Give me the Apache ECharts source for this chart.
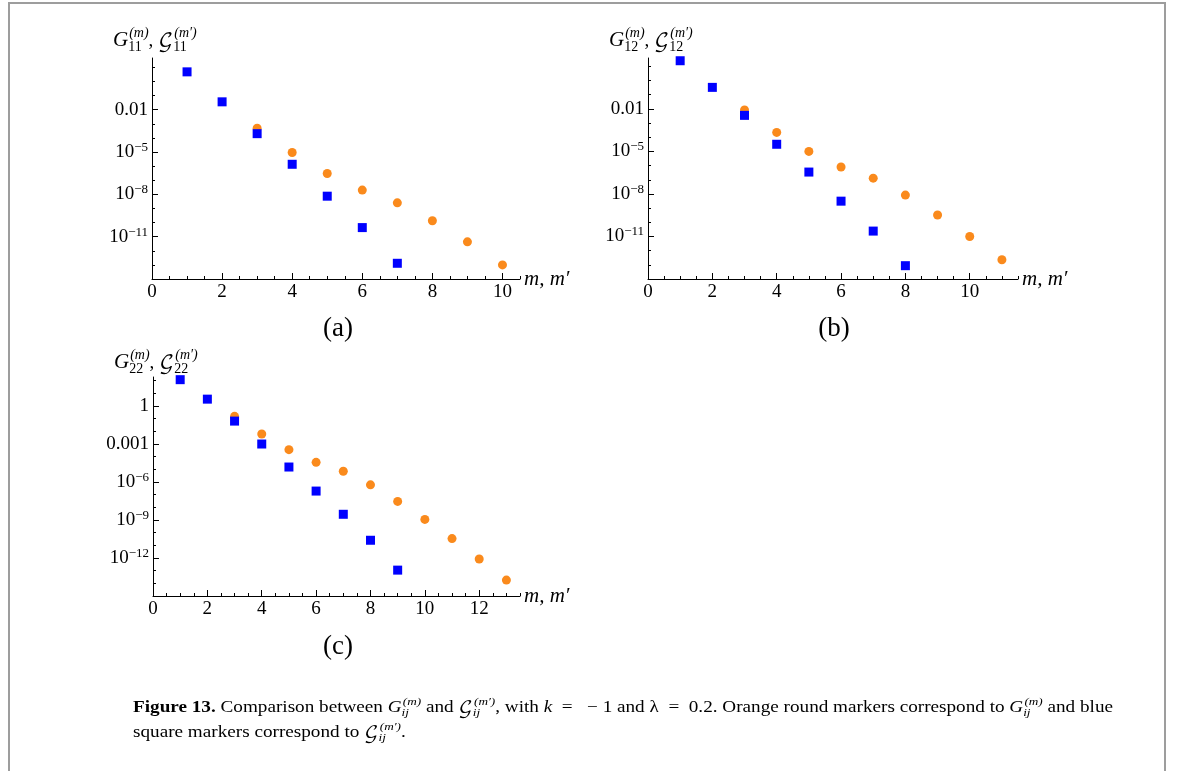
<!DOCTYPE html>
<html>
<head>
<meta charset="utf-8">
<script src="https://cdn.jsdelivr.net/npm/echarts@6/dist/echarts.min.js"></script>
<style>
html,body{margin:0;padding:0;background:#fff;}
#chart{width:1182px;height:771px;}
</style>
</head>
<body>
<div id="chart"></div>
<script>
// ---------------- data ----------------
// panel (a): G11
const mOrangeA = [3, 4, 5, 6, 7, 8, 9, 10];
const orangeA = [4.9e-4, 9.3e-6, 3.0e-7, 2.0e-8, 2.5e-9, 1.35e-10, 4.3e-12, 1.0e-13];
const mBlueA = [1, 2, 3, 4, 5, 6, 7];
const blueA = [4.8, 0.036, 2.0e-4, 1.35e-6, 7.4e-9, 4.4e-11, 1.3e-13];
// panel (b): G12
const mOrangeB = [3, 4, 5, 6, 7, 8, 9, 10, 11];
const orangeB = [8.5e-3, 2.2e-4, 1.0e-5, 7.9e-7, 1.3e-7, 8.3e-9, 3.3e-10, 1.0e-11, 2.3e-13];
const mBlueB = [1, 2, 3, 4, 5, 6, 7, 8];
const blueB = [25, 0.33, 3.5e-3, 3.2e-5, 3.5e-7, 3.1e-9, 2.4e-11, 8.7e-14];
// panel (c): G22
const mOrangeC = [3, 4, 5, 6, 7, 8, 9, 10, 11, 12, 13];
const orangeC = [0.15, 6.0e-3, 3.5e-4, 3.5e-5, 6.9e-6, 5.9e-7, 2.9e-8, 1.1e-9, 3.4e-11, 8.3e-13, 1.8e-14];
const mBlueC = [1, 2, 3, 4, 5, 6, 7, 8, 9];
const blueC = [117, 3.4, 0.063, 9.8e-4, 1.5e-5, 1.9e-7, 2.8e-9, 2.5e-11, 1.1e-13];

// axis ranges and tick labels
const xMaxA = 10.5, xMaxB = 11.5, xMaxC = 13.5;
const xTicksA = [0, 2, 4, 6, 8, 10];
const xTicksB = [0, 2, 4, 6, 8, 10];
const xTicksC = [0, 2, 4, 6, 8, 10, 12];
const yRangeA = [1e-14, 46];
const yRangeB = [1e-14, 39];
const yRangeC = [1e-15, 190];
const yLabelExpA = [-11, -8, -5, -2];
const yLabelExpB = [-11, -8, -5, -2];
const yLabelExpC = [-12, -9, -6, -3, 0];

// ---------------- styling ----------------
const SERIF = "'Liberation Serif', 'DejaVu Serif', serif";
const SCRIPT = "'DejaVu Math TeX Gyre', 'Noto Sans Math', 'DejaVu Serif', serif";
const ORANGE = '#FA8A1C';
const BLUE = '#0000FF';
const TICK_FS = 19;

const grids = [
  {left: 152, top: 58, width: 368, height: 221},
  {left: 648, top: 58, width: 370, height: 221},
  {left: 153, top: 377, width: 367, height: 219}
];

function yLabel(v) {
  const e = Math.round(v);
  if (e === 0) return '1';
  if (e >= -3) return (Math.pow(10, e)).toFixed(-e);
  return '10{sup|\u2212' + (-e) + '}';
}
function ints(lo, hi) {
  const r = [];
  for (let i = Math.ceil(lo); i <= Math.floor(hi); i++) r.push(i);
  return r;
}
function xMajor(g, max, ticks) {
  return {
    type: 'value', gridIndex: g, position: 'bottom', min: 0, max: max,
    name: 'm, m\u2032', nameLocation: 'end', nameGap: 4,
    nameTextStyle: {fontFamily: SERIF, fontStyle: 'italic', fontSize: 21, color: '#000', padding: [6, 0, 0, 0]},
    splitLine: {show: false},
    axisLine: {show: true, onZero: false, lineStyle: {color: '#000', width: 1}},
    axisTick: {show: true, inside: true, length: 6, customValues: ticks, lineStyle: {color: '#000'}},
    axisLabel: {customValues: ticks, margin: 4, fontFamily: SERIF, fontSize: TICK_FS, color: '#000'}
  };
}
function xMinor(g, max) {
  return {
    type: 'value', gridIndex: g, position: 'bottom', min: 0, max: max, interval: 0.5,
    splitLine: {show: false}, axisLine: {show: false, onZero: false},
    axisLabel: {show: false},
    axisTick: {show: true, inside: true, length: 3, lineStyle: {color: '#000'}}
  };
}
function yMajor(g, range, labels) {
  const lo = Math.log10(range[0]), hi = Math.log10(range[1]);
  return {
    type: 'value', gridIndex: g, position: 'left', min: lo, max: hi,
    splitLine: {show: false},
    axisLine: {show: true, onZero: false, lineStyle: {color: '#000', width: 1}},
    axisTick: {show: true, inside: true, length: 6, customValues: labels, lineStyle: {color: '#000'}},
    axisLabel: {
      customValues: labels, margin: 4, formatter: yLabel,
      fontFamily: SERIF, fontSize: TICK_FS, color: '#000', lineHeight: 22,
      rich: {sup: {fontFamily: SERIF, fontSize: 13, color: '#000', verticalAlign: 'top', lineHeight: 20}}
    }
  };
}
function yMinor(g, range) {
  const lo = Math.log10(range[0]), hi = Math.log10(range[1]);
  return {
    type: 'value', gridIndex: g, position: 'left', min: lo, max: hi,
    splitLine: {show: false}, axisLine: {show: false, onZero: false},
    axisLabel: {show: false},
    axisTick: {show: true, inside: true, length: 3, customValues: ints(lo, hi), lineStyle: {color: '#000'}}
  };
}
function pts(ms, vs) { return ms.map((m, i) => [m, Math.log10(vs[i])]); }
function orangeSeries(ax, ms, vs) {
  return {type: 'scatter', xAxisIndex: ax, yAxisIndex: ax, data: pts(ms, vs),
    symbol: 'circle', symbolSize: 9, itemStyle: {color: ORANGE, opacity: 1}, z: 2};
}
function blueSeries(ax, ms, vs) {
  return {type: 'scatter', xAxisIndex: ax, yAxisIndex: ax, data: pts(ms, vs),
    symbol: 'rect', symbolSize: 9, itemStyle: {color: BLUE, opacity: 1}, z: 3};
}

// ---------------- math-like text layout for titles and caption ----------------
const mctx = document.createElement('canvas').getContext('2d');
function font(size, style, family) { return (style || '') + ' ' + size + 'px ' + (family || SERIF); }
function tw(text, f) { mctx.font = f; return mctx.measureText(text).width; }
function textEl(text, x, baseline, size, f) {
  return {type: 'text', x: x, y: baseline - 0.3 * size, silent: true,
    style: {text: text, font: f, fill: '#000', verticalAlign: 'middle', align: 'left'}};
}
function layout(tokens, x0, baseline) {
  const els = [];
  let x = x0;
  tokens.forEach(tk => {
    const f = font(tk.size, tk.style, tk.family);
    els.push(textEl(tk.t, x, baseline, tk.size, f));
    x += tw(tk.t, f);
    if (tk.sub !== undefined || tk.sup !== undefined) {
      const ss = tk.ss;
      const fs = font(ss, tk.subStyle || '', SERIF);
      const fp = font(ss, tk.supStyle || '', SERIF);
      let w = 0;
      if (tk.sup) { els.push(textEl(tk.sup, x + 1, baseline - 0.45 * tk.size, ss, fp)); w = Math.max(w, tw(tk.sup, fp)); }
      if (tk.sub) { els.push(textEl(tk.sub, x, baseline + 0.22 * tk.size, ss, fs)); w = Math.max(w, tw(tk.sub, fs)); }
      x += w + 1;
    }
  });
  return {els: els, width: x - x0};
}

function panelTitle(idx, x, baseline) {
  return layout([
    {t: 'G', size: 21, style: 'italic', ss: 14, sub: idx, sup: '(m)', supStyle: 'italic'},
    {t: ', ', size: 19},
    {t: '\u{1D4A2}', size: 20, family: SCRIPT, ss: 14, sub: idx, sup: '(m\u2032)', supStyle: 'italic'}
  ], x, baseline).els;
}

const CS = 16, CSS = 11;
const capLine1 = [
  {t: 'Figure 13.', size: CS, style: 'bold'},
  {t: ' Comparison between ', size: CS},
  {t: 'G', size: CS, style: 'italic', ss: CSS, sub: 'ij', subStyle: 'italic', sup: '(m)', supStyle: 'italic'},
  {t: ' and ', size: CS},
  {t: '\u{1D4A2}', size: CS, family: SCRIPT, ss: CSS, sub: 'ij', subStyle: 'italic', sup: '(m\u2032)', supStyle: 'italic'},
  {t: ', with ', size: CS},
  {t: 'k', size: CS, style: 'italic'},
  {t: '  =   \u2212 1 and ', size: CS},
  {t: '\u03BB', size: CS},
  {t: '  =  0.2. Orange round markers correspond to ', size: CS},
  {t: 'G', size: CS, style: 'italic', ss: CSS, sub: 'ij', subStyle: 'italic', sup: '(m)', supStyle: 'italic'},
  {t: ' and blue', size: CS}
];
const capLine2 = [
  {t: 'square markers correspond to ', size: CS},
  {t: '\u{1D4A2}', size: CS, family: SCRIPT, ss: CSS, sub: 'ij', subStyle: 'italic', sup: '(m\u2032)', supStyle: 'italic'},
  {t: '.', size: CS}
];
const l1 = layout(capLine1, 0, 713);
const l2 = layout(capLine2, 0, 738);
const capScale = 980 / l1.width;

const PANEL_FONT = font(27, '', SERIF);
const graphic = [
  {type: 'rect', silent: true, shape: {x: 9, y: 3, width: 1156, height: 820},
   style: {fill: 'none', stroke: '#9d9d9d', lineWidth: 2}},
  {type: 'group', silent: true, children: panelTitle('11', 113, 47)},
  {type: 'group', silent: true, children: panelTitle('12', 609, 47)},
  {type: 'group', silent: true, children: panelTitle('22', 114, 369)},
  {type: 'text', silent: true, x: 338, y: 329, style: {text: '(a)', font: PANEL_FONT, fill: '#000', align: 'center', verticalAlign: 'middle'}},
  {type: 'text', silent: true, x: 834, y: 329, style: {text: '(b)', font: PANEL_FONT, fill: '#000', align: 'center', verticalAlign: 'middle'}},
  {type: 'text', silent: true, x: 338, y: 647, style: {text: '(c)', font: PANEL_FONT, fill: '#000', align: 'center', verticalAlign: 'middle'}},
  {type: 'group', silent: true, x: 133, y: 0, scaleX: capScale, children: l1.els.concat(l2.els)}
];

const option = {
  animation: false,
  backgroundColor: '#fff',
  grid: grids,
  xAxis: [
    xMajor(0, xMaxA, xTicksA), xMajor(1, xMaxB, xTicksB), xMajor(2, xMaxC, xTicksC),
    xMinor(0, xMaxA), xMinor(1, xMaxB), xMinor(2, xMaxC)
  ],
  yAxis: [
    yMajor(0, yRangeA, yLabelExpA), yMajor(1, yRangeB, yLabelExpB), yMajor(2, yRangeC, yLabelExpC),
    yMinor(0, yRangeA), yMinor(1, yRangeB), yMinor(2, yRangeC)
  ],
  series: [
    orangeSeries(0, mOrangeA, orangeA), blueSeries(0, mBlueA, blueA),
    orangeSeries(1, mOrangeB, orangeB), blueSeries(1, mBlueB, blueB),
    orangeSeries(2, mOrangeC, orangeC), blueSeries(2, mBlueC, blueC)
  ],
  graphic: graphic
};

const chart = echarts.init(document.getElementById('chart'), null, {renderer: 'canvas'});
chart.setOption(option);
</script>
</body>
</html>
